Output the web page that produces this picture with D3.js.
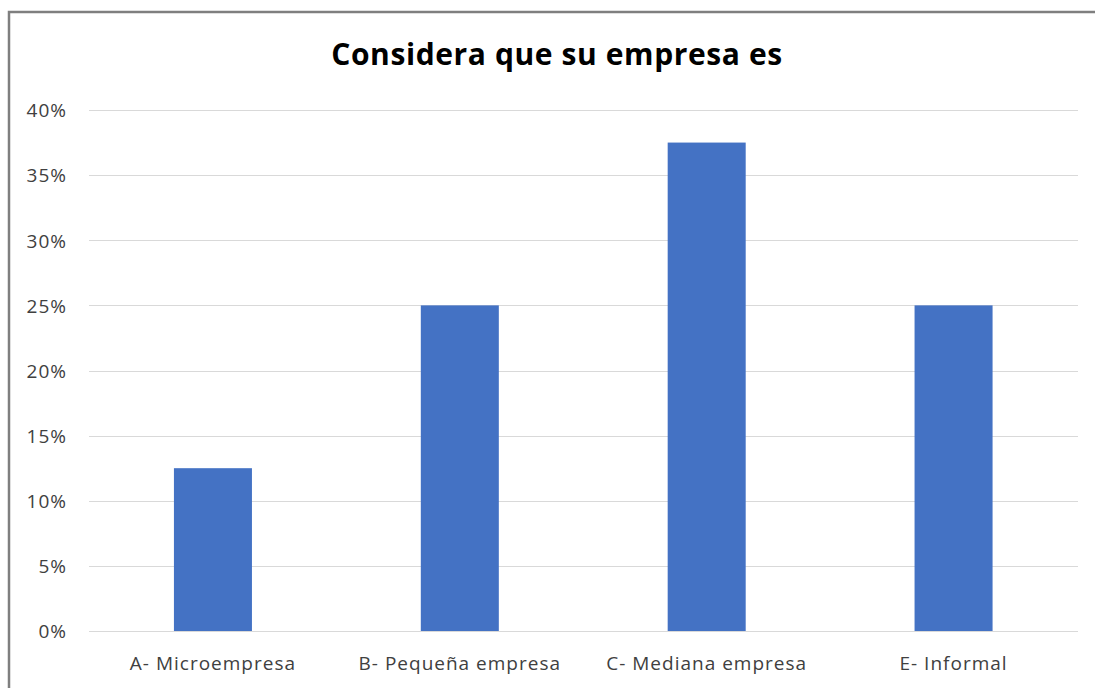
<!DOCTYPE html>
<html><head><meta charset="utf-8">
<script src="https://cdn.jsdelivr.net/npm/d3@7"></script>
<style>body{margin:0;background:#fff}svg{display:block}</style>
</head><body>
<svg id="c" width="1095" height="688"></svg>
<script>
const categories = ["A- Microempresa", "B- Pequeña empresa", "C- Mediana empresa", "E- Informal"];
const values = [0.125, 0.25, 0.375, 0.25];
const yTicks = [0, 0.05, 0.10, 0.15, 0.20, 0.25, 0.30, 0.35, 0.40];
const title = "Considera que su empresa es";

const svg = d3.select("#c");
// chart border
svg.append("path").attr("d", "M9,700 L9,12 L1100,12").attr("fill","none").attr("stroke","#7f7f7f").attr("stroke-width",2.5);

const x = d3.scaleBand().domain(categories).range([89.5, 1077]).paddingInner(0.684).paddingOuter(0.342);
const y = d3.scaleLinear().domain([0, 0.40]).range([631, 110]);

const grid = svg.append("g");
grid.selectAll("line").data(yTicks).join("line")
  .attr("x1", 89).attr("x2", 1078)
  .attr("y1", d => Math.round(y(d)) + 0.5).attr("y2", d => Math.round(y(d)) + 0.5)
  .attr("stroke", "#d9d9d9").attr("stroke-width", 1);

const yAxis = d3.axisLeft(y).tickValues(yTicks).tickFormat(d3.format(".0%")).tickSize(0).tickPadding(0);
const ya = svg.append("g").attr("transform", "translate(67,0)").call(yAxis);
ya.select(".domain").remove();
ya.selectAll("text").attr("font-family", "'Open Sans', sans-serif").attr("font-size", 19)
  .attr("letter-spacing", 1).attr("fill", "#404040").attr("dy", "0.36em");

svg.append("g").selectAll("rect").data(values).join("rect")
  .attr("x", (d, i) => x(categories[i]))
  .attr("width", x.bandwidth())
  .attr("y", d => y(d))
  .attr("height", d => y(0) - y(d))
  .attr("fill", "#4472c4");

const xAxis = d3.axisBottom(x).tickSize(0).tickPadding(0);
const xa = svg.append("g").attr("transform", "translate(0,670)").call(xAxis);
xa.select(".domain").remove();
xa.selectAll("text").attr("font-family", "'Open Sans', sans-serif").attr("font-size", 19)
  .attr("letter-spacing", 1).attr("fill", "#404040").attr("y", 0).attr("dy", 0);

svg.append("text").attr("x", 557).attr("y", 65).attr("text-anchor", "middle")
  .attr("font-family", "'Open Sans', sans-serif").attr("font-weight", "bold").attr("font-size", 30)
  .attr("letter-spacing", 0.6).attr("fill", "#000")
  .text(title);
</script>
</body></html>
